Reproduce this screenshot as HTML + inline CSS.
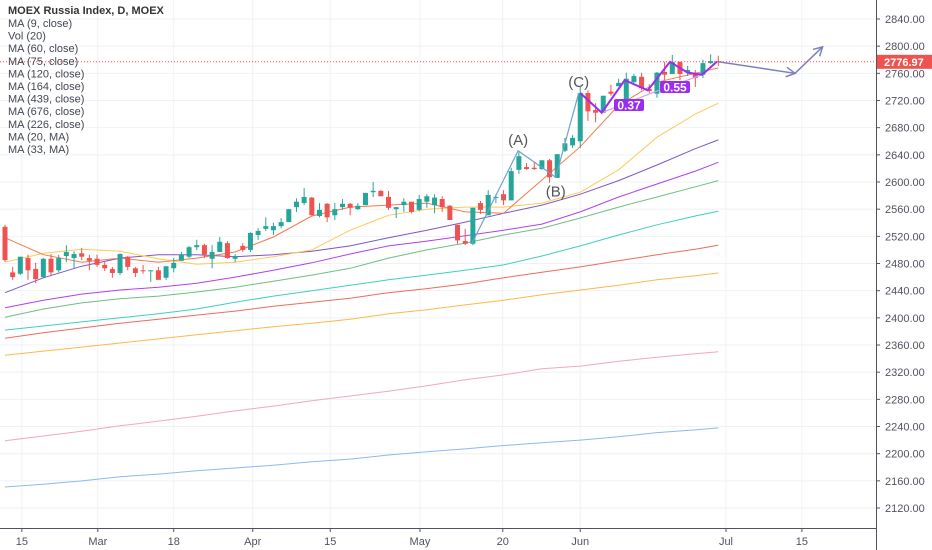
<!DOCTYPE html>
<html><head><meta charset="utf-8"><style>
html,body{margin:0;padding:0;background:#fff;}
svg{display:block;font-family:"Liberation Sans",sans-serif;}
</style></head><body>
<svg id="chart" width="932" height="550" viewBox="0 0 932 550" xmlns="http://www.w3.org/2000/svg">
<g id="grid"></g>
<g id="mas"></g>
<g id="candles"></g>
<g id="draw"></g>
<g id="axes"></g>
<g id="legend" font-size="11" fill="#434651">
<text x="8" y="14" font-weight="bold" fill="#333">MOEX Russia Index, D, MOEX</text>
<text x="8" y="27">MA (9, close)</text>
<text x="8" y="39.6">Vol (20)</text>
<text x="8" y="52.2">MA (60, close)</text>
<text x="8" y="64.8">MA (75, close)</text>
<text x="8" y="77.4">MA (120, close)</text>
<text x="8" y="90">MA (164, close)</text>
<text x="8" y="102.6">MA (439, close)</text>
<text x="8" y="115.2">MA (676, close)</text>
<text x="8" y="127.8">MA (226, close)</text>
<text x="8" y="140.4">MA (20, MA)</text>
<text x="8" y="153">MA (33, MA)</text>
</g>
</svg>
<script>
const opens=[2534,2467,2465,2488,2472,2460,2487,2470,2491,2488,2495,2488,2487,2478,2472,2466,2490,2473,2470,2469,2470,2459,2473,2484,2490,2504,2507,2487,2497,2510,2487,2506,2500,2522,2531,2529,2535,2541,2563,2569,2577,2550,2568,2551,2563,2568,2560,2566,2585,2587,2578,2560,2566,2571,2559,2571,2566,2575,2565,2537,2513,2509,2569,2551,2577,2582,2573,2618,2622,2621,2619,2632,2606,2646,2654,2660,2731,2706,2702,2733,2741,2718,2747,2755,2737,2730,2762,2759,2777,2762,2761,2758,2775,2778];
const highs=[2537,2475,2490,2493,2481,2488,2494,2493,2507,2498,2503,2493,2493,2482,2475,2495,2491,2475,2478,2470,2475,2476,2488,2497,2506,2515,2509,2507,2519,2513,2494,2510,2526,2532,2548,2540,2547,2560,2576,2591,2578,2569,2569,2569,2575,2569,2569,2584,2600,2588,2587,2563,2576,2571,2581,2582,2582,2579,2566,2537,2531,2562,2572,2588,2582,2588,2621,2644,2628,2629,2632,2634,2641,2665,2669,2740,2735,2716,2727,2743,2752,2761,2759,2761,2744,2762,2777,2787,2777,2771,2765,2780,2788,2786];
const lows=[2482,2456,2463,2456,2451,2459,2463,2467,2482,2472,2485,2470,2475,2469,2459,2463,2470,2460,2465,2453,2456,2456,2467,2484,2488,2500,2488,2473,2497,2487,2482,2497,2497,2515,2528,2522,2532,2541,2556,2566,2551,2548,2541,2544,2559,2551,2559,2566,2578,2579,2559,2547,2556,2554,2557,2562,2554,2556,2544,2509,2507,2507,2553,2551,2569,2566,2573,2612,2618,2618,2618,2599,2606,2644,2650,2650,2690,2688,2702,2727,2741,2716,2746,2735,2731,2724,2750,2759,2750,2756,2740,2753,2774,2771];
const closes=[2485,2460,2490,2470,2457,2487,2467,2488,2497,2494,2490,2484,2478,2473,2466,2494,2475,2466,2469,2470,2456,2476,2481,2493,2504,2507,2493,2497,2512,2488,2491,2500,2525,2528,2535,2535,2541,2560,2571,2578,2551,2559,2548,2560,2568,2562,2565,2584,2587,2579,2562,2563,2571,2556,2575,2579,2577,2563,2544,2514,2509,2562,2559,2581,2578,2573,2616,2638,2619,2619,2632,2607,2641,2657,2665,2731,2704,2702,2727,2730,2746,2752,2756,2738,2734,2761,2758,2777,2759,2765,2753,2775,2778,2777];
const maIdx=[0,5,10,15,20,25,30,35,40,45,50,55,60,65,70,75,80,85,90,93];
const ma9=[2518,2493,2482,2488,2482,2488,2497,2519,2550,2563,2566,2569,2556,2554,2603,2652,2713,2747,2760,2768];
const maYellow=[2482,2495,2501,2498,2487,2479,2482,2490,2500,2529,2551,2560,2563,2563,2569,2585,2618,2666,2700,2716];
const maPurple=[2437,2459,2476,2488,2493,2493,2490,2493,2498,2506,2518,2529,2541,2554,2566,2582,2602,2625,2649,2662];
const maViolet=[2415,2426,2435,2441,2445,2451,2460,2470,2481,2494,2506,2513,2521,2529,2538,2556,2578,2597,2616,2629];
const maGreen=[2401,2413,2422,2428,2432,2438,2445,2454,2463,2473,2488,2500,2510,2522,2532,2547,2563,2578,2593,2602];
const maTeal=[2382,2388,2394,2400,2406,2413,2423,2432,2440,2448,2456,2463,2470,2478,2491,2506,2522,2537,2550,2557];
const maRed=[2370,2378,2385,2392,2398,2404,2410,2417,2423,2429,2437,2443,2450,2459,2467,2475,2484,2493,2501,2507];
const maOrange=[2345,2351,2357,2363,2369,2375,2381,2387,2392,2398,2406,2412,2419,2426,2434,2441,2448,2456,2462,2466];
const maPink=[2219,2226,2233,2241,2248,2255,2263,2270,2278,2285,2292,2300,2309,2316,2325,2329,2336,2342,2347,2350];
const maBlue=[2151,2155,2160,2166,2170,2175,2179,2183,2188,2192,2198,2203,2207,2212,2216,2220,2225,2231,2235,2238];
const priceTicks=[2120,2160,2200,2240,2280,2320,2360,2400,2440,2480,2520,2560,2600,2640,2680,2720,2760,2800,2840];
const dateLabels=["15","Mar","18","Apr","15","May","20","Jun","Jul","15"];
const dateIdx=[2.2,12.1,22,32.3,42.4,54.1,64.9,75,94,103.9];
const lastPrice=2776.97;
const abcIdx=[60.9,66.9,71.8,74.8];
const abcPrice=[2510,2646,2607,2731];
const abcNames=["","(A)","(B)","(C)"];
const zigIdx=[75,77.8,80.8,83.8,86.7,89,90.9,92.8];
const zigPrice=[2731,2702,2750,2735,2777,2761,2758,2777];
const fcIdx=[93,103,106.6];
const fcPrice=[2777,2760,2799];

const NS="http://www.w3.org/2000/svg";
const PW=876,PH=528;
function xOf(i){return 5+i*7.67;}
function yOf(p){return 19+(2840-p)*0.6792;}
function mk(tag,attrs,parent){const e=document.createElementNS(NS,tag);for(const k in attrs)e.setAttribute(k,attrs[k]);parent.appendChild(e);return e;}
const grid=document.getElementById('grid'),mas=document.getElementById('mas'),cg=document.getElementById('candles'),dr=document.getElementById('draw'),ax=document.getElementById('axes');

priceTicks.forEach(p=>{
 const l=mk('line',{x1:0,x2:PW,y1:yOf(p),y2:yOf(p),stroke:'#eef2f6','stroke-width':1},grid);
 
 
 const t=mk('line',{x1:PW,x2:PW+4,y1:yOf(p),y2:yOf(p),stroke:'#50535e'},ax);
 
 
 const tx=mk('text',{x:885,y:yOf(p)+4,'font-size':11,fill:'#50535e'},ax);
 tx.textContent=p.toFixed(2);
 
 
});
dateIdx.forEach((d,k)=>{
 const x=xOf(d);
 const l=mk('line',{x1:x,x2:x,y1:0,y2:PH,stroke:'#eef2f6'},grid);
 
 
 const t=mk('line',{x1:x,x2:x,y1:PH,y2:PH+4,stroke:'#50535e'},ax);
 
 
 const tx=mk('text',{x:x,y:545,'font-size':11,fill:'#50535e','text-anchor':'middle'},ax);
 tx.textContent=dateLabels[k];
 
 
});
const ya=mk('line',{x1:PW+0.5,x2:PW+0.5,y1:0,y2:550,stroke:'#50535e'},ax);


const xa=mk('line',{x1:0,x2:PW,y1:PH+0.5,y2:PH+0.5,stroke:'#50535e'},ax);



const maDefs=[[maBlue,'#8fb8f0','ma-blue'],[maPink,'#f4a6c0','ma-pink'],[maOrange,'#ffb74d','ma-orange'],[maRed,'#ef6b5e','ma-red'],[maTeal,'#3fcfc0','ma-teal'],[maGreen,'#6fbf80','ma-green'],[maViolet,'#b040f0','ma-violet'],[maPurple,'#7e57c2','ma-purple'],[maYellow,'#ffc857','ma-yellow'],[ma9,'#f5794a','ma-9']];
maDefs.forEach(([vals,col,name])=>{
 const pts=vals.map((v,k)=>xOf(maIdx[k]).toFixed(1)+','+yOf(v).toFixed(1)).join(' ');
 const pl=mk('polyline',{points:pts,fill:'none',stroke:col,'stroke-width':1},mas);
 
 
});

const lp=mk('line',{x1:0,x2:PW,y1:yOf(lastPrice),y2:yOf(lastPrice),stroke:'#ef5350','stroke-dasharray':'1,2'},ax);



closes.forEach((c,i)=>{
 const o=opens[i],up=c>=o,col=up?'#26a69a':'#ef5350',x=xOf(i);
 const g=mk('g',{},cg);
 
 
 mk('line',{x1:x,x2:x,y1:yOf(highs[i]),y2:yOf(lows[i]),stroke:col,'stroke-width':1},g);
 const top=yOf(Math.max(o,c)),bot=yOf(Math.min(o,c));
 mk('rect',{x:x-2.5,y:top,width:5,height:Math.max(1,bot-top),fill:col},g);
});

const abcPts=abcIdx.map((d,k)=>xOf(d)+','+yOf(abcPrice[k])).join(' ');
const abc=mk('polyline',{points:abcPts,fill:'none',stroke:'#6fa3c8','stroke-width':1.2},dr);


abcNames.forEach((n,k)=>{
 if(!n)return;
 const below=k===2;
 const t=mk('text',{x:xOf(abcIdx[k]),y:yOf(abcPrice[k])+(below?19:-6),'font-size':15,fill:'#555','text-anchor':'middle'},dr);
 t.textContent=n;
 
 
});
const rl=mk('polyline',{points:[xOf(zigIdx[1])+','+yOf(zigPrice[1]),xOf(84.3)+','+yOf(2731),xOf(zigIdx[6])+','+yOf(zigPrice[6])].join(' '),fill:'none',stroke:'#c9a3f2','stroke-width':1.2},dr);


const zig=mk('polyline',{points:zigIdx.map((d,k)=>xOf(d)+','+yOf(zigPrice[k])).join(' '),fill:'none',stroke:'#9c2cf0','stroke-width':2},dr);


[[629,105,'0.37'],[675,87,'0.55']].forEach(([x,y,s])=>{
 const r=mk('rect',{x:x-15,y:y-6,width:30,height:12,rx:2,fill:'#9c2cf0'},dr);
 
 
 const t=mk('text',{x:x,y:y+4.5,'font-size':12,fill:'#fff','text-anchor':'middle','font-weight':'bold'},dr);
 t.textContent=s;
 
 
});
const fp=fcIdx.map((d,k)=>[xOf(d),yOf(fcPrice[k])]);
const fc=mk('polyline',{points:fp.map(p=>p.join(',')).join(' '),fill:'none',stroke:'#7c80bd','stroke-width':1.5},dr);


[[fp[0],fp[1]],[fp[1],fp[2]]].forEach(([a,b])=>{
 const ang=Math.atan2(b[1]-a[1],b[0]-a[0]),L=10;
 const p1=[b[0]-L*Math.cos(ang-0.5),b[1]-L*Math.sin(ang-0.5)],p2=[b[0]-L*Math.cos(ang+0.5),b[1]-L*Math.sin(ang+0.5)];
 const h=mk('polyline',{points:p1.join(',')+' '+b.join(',')+' '+p2.join(','),fill:'none',stroke:'#7c80bd','stroke-width':1.5},dr);
 
 
});

const lb=mk('rect',{x:877,y:yOf(lastPrice)-7,width:55,height:14,fill:'#ef5350'},ax);


const lt=mk('text',{x:884,y:yOf(lastPrice)+4,'font-size':11,fill:'#fff','font-weight':'bold'},ax);
lt.textContent=lastPrice.toFixed(2);


</script>
</body></html>
